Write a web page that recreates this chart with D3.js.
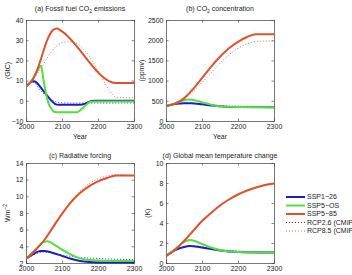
<!DOCTYPE html>
<html>
<head>
<meta charset="utf-8">
<script src="https://cdn.jsdelivr.net/npm/d3@7"></script>
<style>
body { margin: 0; background: #fff; }
svg { font-family: "Liberation Sans", Arial, sans-serif; }
</style>
</head>
<body>
<div class="container"></div>
<script>
// panel (a) fossil fuel CO2 emissions, GtC
var emisSSP126 = [[2000,7],[2010,8.8],[2020,9.7],[2025,9.6],[2030,8.9],[2040,6.8],[2050,4.5],[2060,2.3],[2070,0.2],[2080,-1.5],[2090,-2],[2150,-2],[2165,-1.4],[2180,-0.2],[2190,0],[2300,0]];
var emisSSP5OS = [[2000,7],[2010,8.6],[2020,11],[2030,14.3],[2042,17.3],[2048,11],[2055,4],[2062,-1],[2070,-3.8],[2078,-5.4],[2090,-5.7],[2140,-5.7],[2160,-3.2],[2178,-0.6],[2190,-0.3],[2300,-0.3]];
var emisSSP585 = [[2000,7],[2010,8.6],[2020,11],[2030,14.8],[2040,19.8],[2050,25.5],[2060,30.5],[2070,34],[2080,35.6],[2087,35.8],[2095,35],[2250,8.8],[2300,8.8]];
var emisRCP26 = [[2000,7],[2010,8.6],[2018,9.4],[2025,8.8],[2035,6.2],[2045,4.2],[2055,2.6],[2065,1.2],[2075,0],[2090,-0.8],[2120,-1.1],[2300,-1.1]];
var emisRCP85 = [[2000,7],[2020,10.5],[2040,15.5],[2060,21.5],[2080,26.3],[2100,28.8],[2120,29.2],[2140,28.5],[2160,25.5],[2180,21],[2200,15],[2220,8.5],[2238,3.5],[2250,1.6],[2300,1.5]];

// panel (b) CO2 concentration, ppmv
var concSSP126 = [[2000,370],[2030,425],[2050,440],[2070,438],[2100,412],[2125,385],[2150,362],[2200,345],[2300,340]];
var concSSP5OS = [[2000,370],[2030,450],[2050,515],[2062,535],[2075,520],[2100,465],[2125,405],[2150,362],[2200,345],[2300,340]];
var concSSP585 = [[2000,370],[2025,430],[2050,560],[2075,790],[2100,1060],[2125,1340],[2150,1590],[2175,1800],[2200,1960],[2225,2080],[2250,2150],[2300,2150]];
var concRCP26 = [[2000,370],[2050,442],[2100,420],[2150,385],[2200,368],[2300,360]];
var concRCP85 = [[2000,370],[2025,425],[2050,540],[2075,730],[2100,950],[2125,1190],[2150,1430],[2175,1640],[2200,1800],[2225,1910],[2250,1970],[2300,1980]];

// panel (c) radiative forcing, W m-2
var rfSSP126 = [[2000,2.5],[2025,3.2],[2040,3.45],[2050,3.45],[2075,3.2],[2100,2.85],[2125,2.5],[2150,2.25],[2175,2.12],[2200,2.07],[2300,2.05]];
var rfSSP5OS = [[2000,2.5],[2025,3.5],[2040,4.25],[2050,4.55],[2060,4.6],[2075,4.3],[2100,3.6],[2125,3.0],[2150,2.55],[2175,2.35],[2200,2.3],[2300,2.25]];
var rfSSP585 = [[2000,2.5],[2025,3.5],[2050,4.7],[2075,6.3],[2100,7.9],[2125,9.3],[2150,10.4],[2175,11.2],[2200,11.8],[2225,12.2],[2250,12.5],[2300,12.5]];
var rfRCP26 = [[2000,2.5],[2050,3.3],[2100,2.95],[2150,2.65],[2200,2.55],[2250,2.45],[2300,2.4]];
var rfRCP85 = [[2000,2.5],[2050,4.6],[2100,7.9],[2125,9.4],[2150,10.6],[2175,11.5],[2200,12.1],[2225,12.45],[2250,12.6],[2300,12.5]];

// panel (d) global mean temperature change, K
var tSSP126 = [[2000,0.7],[2025,1.3],[2050,1.6],[2065,1.7],[2080,1.65],[2100,1.55],[2125,1.4],[2150,1.25],[2175,1.15],[2200,1.1],[2300,1.05]];
var tSSP5OS = [[2000,0.7],[2025,1.4],[2050,2.1],[2065,2.3],[2080,2.2],[2100,1.9],[2125,1.55],[2150,1.3],[2175,1.15],[2200,1.1],[2300,1.05]];
var tSSP585 = [[2000,0.7],[2025,1.3],[2050,2.2],[2075,3.2],[2100,4.2],[2125,5.0],[2150,5.75],[2175,6.35],[2200,6.85],[2225,7.25],[2250,7.55],[2275,7.8],[2300,7.95]];
var tRCP26 = [[2000,0.7],[2050,1.6],[2075,1.72],[2100,1.62],[2150,1.35],[2200,1.2],[2300,1.1]];
var tRCP85 = [[2000,0.7],[2050,2.15],[2100,4.1],[2150,5.7],[2200,6.8],[2250,7.5],[2300,7.9]];

var yearTicks = [2000, 2100, 2200, 2300];
var legendLabels = ["SSP1\u221226", "SSP5\u2212OS", "SSP5\u221285", "RCP2.6 (CMIP5)", "RCP8.5 (CMIP5)"];

var blue = "#1c1cc8", green = "#52e03c", red = "#e0502c";
var styles = [
    { color: blue, width: 2, dash: null },
    { color: green, width: 2, dash: null },
    { color: red, width: 2, dash: null },
    { color: "#3535a8", width: 1, dash: "1,2" },
    { color: "#e86a6a", width: 1, dash: "1,2" }
];

var panels = [
    { x0: 26, x1: 134, y0: 20, y1: 121, ty: 10.5, domain: [-10, 40], ticks: [-10, 0, 10, 20, 30, 40],
      series: [emisRCP26, emisRCP85, emisSSP126, emisSSP5OS, emisSSP585], ylab: "(GtC)", ylx: 8, xlab: true,
      title: ["(a) Fossil  fuel CO", "2", " emissions"] },
    { x0: 166, x1: 274, y0: 20, y1: 121, ty: 10.5, domain: [0, 2500], ticks: [0, 500, 1000, 1500, 2000, 2500],
      series: [concRCP26, concRCP85, concSSP126, concSSP5OS, concSSP585], ylab: "(ppmv)", ylx: 142, xlab: true,
      title: ["(b) CO", "2", " concentration"] },
    { x0: 26, x1: 134, y0: 163, y1: 263, ty: 158, domain: [2, 14], ticks: [2, 4, 6, 8, 10, 12, 14],
      series: [rfRCP26, rfRCP85, rfSSP126, rfSSP5OS, rfSSP585], ylab: "Wm", ylx: 8, xlab: false,
      title: ["(c) Radiative  forcing"] },
    { x0: 166, x1: 274, y0: 163, y1: 263, ty: 158, domain: [0, 10], ticks: [0, 2, 4, 6, 8, 10],
      series: [tRCP26, tRCP85, tSSP126, tSSP5OS, tSSP585], ylab: "(K)", ylx: 148, xlab: false,
      title: ["(d) Global mean  temperature change"] }
];
// draw order: dotted first, then solid lines on top
var seriesStyle = [3, 4, 0, 1, 2];

var svg = d3.select(".container")
    .append("svg")
    .attr("width", 352)
    .attr("height", 275);

panels.forEach(function (p) {
    var x = d3.scaleLinear().domain([2000, 2300]).range([p.x0, p.x1]);
    var y = d3.scaleLinear().domain(p.domain).range([p.y1, p.y0]);
    var g = svg.append("g");

    var clipId = "clip" + p.x0 + "_" + p.y0;
    g.append("clipPath").attr("id", clipId)
        .append("rect")
        .attr("x", p.x0).attr("y", p.y0 - 1)
        .attr("width", p.x1 - p.x0).attr("height", p.y1 - p.y0 + 2);

    // axes, matlab style ticks pointing inward
    g.append("g")
        .attr("transform", "translate(0," + p.y1 + ")")
        .call(d3.axisBottom(x).tickValues(yearTicks).tickFormat(d3.format("d")).tickSize(-2.5).tickPadding(3.5));
    g.append("g")
        .attr("transform", "translate(0," + p.y0 + ")")
        .call(d3.axisTop(x).tickValues(yearTicks).tickFormat("").tickSize(-2.5));
    g.append("g")
        .attr("transform", "translate(" + p.x0 + ",0)")
        .call(d3.axisLeft(y).tickValues(p.ticks).tickFormat(d3.format("d")).tickSize(-2.5).tickPadding(2.5));
    g.append("g")
        .attr("transform", "translate(" + p.x1 + ",0)")
        .call(d3.axisRight(y).tickValues(p.ticks).tickFormat("").tickSize(-2.5));

    g.selectAll(".domain").attr("stroke", "#555").attr("stroke-width", 0.8);
    g.selectAll(".tick line").attr("stroke", "#555").attr("stroke-width", 0.7);
    g.selectAll(".tick text").attr("font-size", 7).attr("fill", "#222")
        .attr("font-family", "Liberation Sans, Arial, sans-serif");

    var line = d3.line()
        .x(function (d) { return x(d[0]); })
        .y(function (d) { return y(d[1]); })
        .curve(d3.curveMonotoneX);

    g.append("g").attr("clip-path", "url(#" + clipId + ")")
        .selectAll("path")
        .data(p.series)
        .enter()
        .append("path")
        .attr("d", line)
        .attr("fill", "none")
        .attr("stroke", function (d, i) { return styles[seriesStyle[i]].color; })
        .attr("stroke-width", function (d, i) { return styles[seriesStyle[i]].width; })
        .attr("stroke-dasharray", function (d, i) { return styles[seriesStyle[i]].dash; });

    // title
    var t = g.append("text")
        .attr("x", (p.x0 + p.x1) / 2)
        .attr("y", p.ty)
        .attr("text-anchor", "middle")
        .attr("font-size", 7)
        .attr("fill", "#222");
    t.append("tspan").text(p.title[0]);
    if (p.title.length > 1) {
        t.append("tspan").attr("dy", 2).attr("font-size", 5).text(p.title[1]);
        t.append("tspan").attr("dy", -2).text(p.title[2]);
    }

    // y label
    var yl = g.append("text")
        .attr("transform", "translate(" + p.ylx + "," + ((p.y0 + p.y1) / 2) + ") rotate(-90)")
        .attr("text-anchor", "middle")
        .attr("dy", "0.35em")
        .attr("font-size", 7)
        .attr("fill", "#222");
    yl.append("tspan").text(p.ylab);
    if (p.ylab === "Wm") {
        yl.append("tspan").attr("dy", -3).attr("font-size", 5).text("\u22122");
    }

    if (p.xlab) {
        g.append("text")
            .attr("x", (p.x0 + p.x1) / 2)
            .attr("y", p.y1 + 18)
            .attr("text-anchor", "middle")
            .attr("font-size", 7)
            .attr("fill", "#222")
            .text("Year");
    }
});

// legend
var legend = svg.append("g").attr("transform", "translate(286,197)");
var rows = legend.selectAll("g")
    .data(legendLabels)
    .enter()
    .append("g")
    .attr("transform", function (d, i) { return "translate(0," + (i * 8.5) + ")"; });
rows.append("line")
    .attr("x1", 0).attr("x2", 19)
    .attr("stroke", function (d, i) { return styles[i].color; })
    .attr("stroke-width", function (d, i) { return styles[i].width; })
    .attr("stroke-dasharray", function (d, i) { return styles[i].dash; });
rows.append("text")
    .attr("x", 21)
    .attr("dy", "0.35em")
    .attr("font-size", 7)
    .attr("fill", "#222")
    .text(function (d) { return d; });
</script>
</body>
</html>
